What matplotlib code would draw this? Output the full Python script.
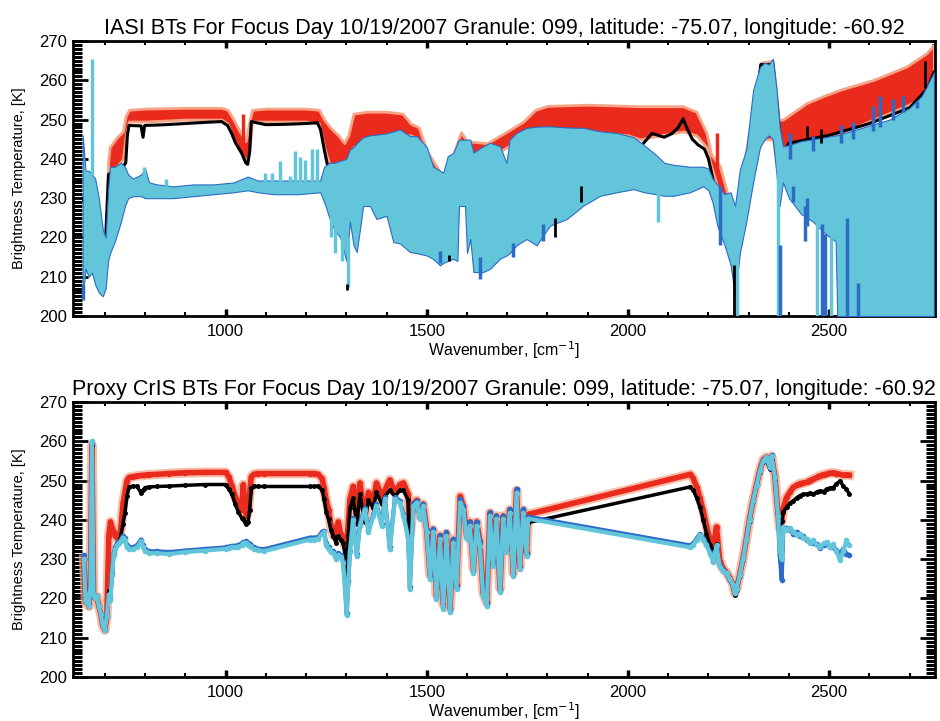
import numpy as np
from matplotlib import pyplot as plt
from matplotlib.ticker import MultipleLocator

plt.rcParams['font.family'] = ['Liberation Sans', 'DejaVu Sans']

RED = '#ea2a1d'
HALO = '#f6a386'
BLUE = '#2c6cc6'
CYAN = '#62c5da'

# ---------------- IASI (top panel) ----------------
# cyan spectrum drawn as an envelope band (dense channels)
iasi_cyan_wn = [645, 652, 660, 668, 676, 685, 695, 702, 708, 713,
                725, 740, 750, 758, 770, 790, 800, 810, 830, 870,
                920, 970, 1020, 1055, 1080, 1120, 1180, 1235, 1245, 1258,
                1270, 1285, 1300, 1309, 1318, 1326, 1342, 1359, 1375, 1400,
                1417, 1433, 1458, 1475, 1500, 1516, 1533, 1541, 1552, 1566,
                1576, 1580, 1595, 1600, 1608, 1616, 1640, 1657, 1682, 1698,
                1706, 1723, 1748, 1773, 1806, 1848, 1889, 1931, 1972, 2014,
                2040, 2070, 2090, 2113, 2154, 2187, 2200, 2210, 2222, 2240,
                2255, 2266, 2278, 2294, 2311, 2328, 2340, 2350, 2360, 2369,
                2377, 2385, 2400, 2430, 2460, 2490, 2516, 2520, 2600, 2650,
                2700, 2730, 2760]
iasi_cyan_lo = [205, 212, 210, 211, 208, 206, 205, 207, 214, 216,
                219, 224, 228, 230, 230.5, 230.5, 230, 230, 230, 230,
                230.5, 231, 231.5, 232, 231.5, 231, 231, 231.5, 229, 225,
                222, 220, 214, 224, 218, 216.3, 228, 228, 224.7, 225.5,
                218.8, 218.5, 216.3, 216, 215.4, 214.5, 212.9, 213.5, 214, 214.6,
                214, 228, 228, 216, 219.6, 211.2, 211.2, 212, 214.6, 215.4,
                216, 218, 219.6, 218, 223, 224.7, 228.1, 230.6, 231.5, 232.3,
                231.5, 231, 230.6, 230.6, 231.5, 233, 232, 229, 223, 218,
                213, 205, 216, 224, 234, 243, 245, 246, 245, 236,
                228, 234, 230, 226, 224, 221, 219, 200, 200, 200,
                200, 200, 200]
iasi_cyan_hi = [246, 237, 237, 236, 235, 230, 222, 220, 232, 238,
                238, 239, 238, 236, 235, 236, 237.5, 234, 233.5, 233,
                233.5, 233.5, 234, 235.5, 234.5, 234.5, 234.5, 234.5, 238, 239,
                239, 239.5, 240, 242.4, 243, 244, 245.5, 246, 246.2, 246.5,
                247, 247.5, 245.8, 245.8, 243, 238, 237, 236.5, 240.7, 241.5,
                244, 244.9, 244.9, 244.9, 244.9, 241.6, 243.2, 244.1, 243.2, 239,
                244.9, 246.6, 247.9, 248.2, 248.3, 248, 247.9, 247, 246.6, 245.5,
                243.5, 241, 239, 238.5, 238, 238, 237.5, 235, 233.5, 231,
                231.5, 228, 237.3, 242.4, 257.6, 263.4, 264.5, 264, 265.5, 258,
                248, 243.2, 243.5, 244.5, 245, 245.5, 246, 246, 248.5, 250,
                253, 256, 262]

iasi_red_wn = [708, 712, 730, 745, 752, 760, 800, 900, 990, 1005,
               1020, 1035, 1050, 1058, 1066, 1100, 1200, 1232, 1245, 1260,
               1280, 1295, 1305, 1318, 1350, 1400, 1440, 1460, 1480, 1500,
               1540, 1560, 1585, 1600, 1650, 1700, 1740, 1770, 1800, 1900,
               2000, 2030, 2080, 2137, 2170, 2195, 2207, 2228, 2250, 2266,
               2290, 2330, 2360, 2375, 2385, 2444, 2486, 2527, 2610, 2692,
               2742, 2760]
iasi_red_lo = [236.5, 237, 238, 240, 246, 249.5, 249.5, 250, 250, 249,
               245, 242, 239.5, 241, 249.5, 249.5, 249.5, 249, 243, 238,
               237, 236, 238, 243, 244, 245, 246, 246, 245, 238,
               232, 235, 243, 241, 240, 243, 246, 247, 247.5, 247,
               246, 245, 246, 247, 246, 243, 238, 231, 222, 214,
               226, 245, 245, 235, 242.5, 244, 245, 246.5, 250, 253.5,
               256, 258]
iasi_red_hi = [239, 243, 245.5, 247, 251, 252.5, 252.8, 253, 253, 252.5,
               250, 247, 244.5, 249, 252.5, 252.8, 252.8, 252.5, 250, 248,
               246, 244, 246, 251.5, 252, 252, 251.5, 249, 248, 242,
               235.5, 239.5, 246.8, 244.5, 244, 247, 249.5, 252.5, 253.5, 253.8,
               253.5, 253.4, 253.4, 253.4, 252, 246.6, 241, 238.2, 230, 226,
               240, 264.5, 265, 250, 250, 254.2, 256, 257.6, 260.1, 263.5,
               266.9, 269]

iasi_blk_wn = [645, 700, 709, 745, 752, 756, 760, 790, 795, 799,
               850, 900, 950, 990, 1005, 1015, 1025, 1040, 1050, 1055,
               1060, 1064, 1100, 1150, 1200, 1228, 1236, 1245, 1255, 1270,
               1290, 1310, 1400, 1480, 1516, 1541, 1566, 1600, 1640, 1698,
               1723, 1773, 1889, 1972, 2030, 2060, 2090, 2110, 2125, 2137,
               2148, 2160, 2175, 2190, 2200, 2230, 2266, 2300, 2330, 2360,
               2383, 2400, 2500, 2600, 2700, 2745, 2760]
iasi_blk_bt = [230, 215, 236, 238, 239, 246, 248.5, 248.4, 245.5, 248.5,
               248.7, 249, 249.3, 249.5, 248.5, 246.5, 244, 241.5, 239, 238.6,
               242, 249.5, 248.7, 248.8, 249, 249.2, 247.5, 242.5, 237.5, 236,
               235, 236, 244, 243, 235, 233, 238, 240, 240, 236,
               244, 246, 246, 245, 243, 246.5, 245.5, 246.5, 248, 250.2,
               247.5, 245, 243.5, 242.5, 240, 226, 210, 238, 264, 264,
               241, 244, 246, 249, 253, 258, 262]

# isolated channels sticking out of the bands: wavenumber, low, high
iasi_cyan_spk_wn = [668, 797, 852, 1098, 1115, 1135, 1160, 1173, 1185, 1197,
                    1214, 1227, 1262, 1272, 1290, 1304, 2075, 2270, 2372, 2470,
                    2505]
iasi_cyan_spk_lo = [236, 233, 233, 234, 234, 234, 234, 234, 234, 234,
                    234, 234, 220, 216, 214, 207.5, 224, 200, 200, 200,
                    200]
iasi_cyan_spk_hi = [265.5, 238, 235, 236.5, 236.5, 239.4, 235.7, 242, 240.6, 239.8,
                    242.4, 242.4, 230, 228, 225, 220, 232, 215, 240, 224,
                    220]

iasi_blue_spk_wn = [646, 1533, 1632, 1715, 1790, 2229, 2378, 2411, 2440, 2444,
                    2481, 2489, 2544, 2572, 2403, 2460, 2530, 2560, 2609, 2626,
                    2659, 2684, 2717]
iasi_blue_spk_lo = [204, 213.5, 209.5, 215, 219, 218, 200, 229, 219, 223,
                    200, 200, 200, 200, 240, 242, 244, 245, 247, 248,
                    250, 252, 253]
iasi_blue_spk_hi = [208, 216.5, 215, 218.5, 223.5, 233, 218, 233, 228, 230,
                    223.3, 221, 225, 208.5, 246.6, 245.8, 248.5, 249.3, 253.4, 256,
                    255.2, 256, 254.8]

iasi_blk_spk_wn = [1301, 1555, 1818, 1884, 2263, 2444, 2480, 2738]
iasi_blk_spk_lo = [206.5, 214, 220, 229, 200, 245, 244, 258]
iasi_blk_spk_hi = [208.2, 215.5, 225, 233, 213, 248.3, 247.5, 265]

iasi_red_spk_wn = [1044, 2220]
iasi_red_spk_lo = [243, 238]
iasi_red_spk_hi = [251.5, 246.5]

# ---------------- Proxy CrIS (bottom panel) ----------------
cris_wn_lw = [648, 652, 656, 660, 664, 668, 672, 676, 680, 685,
              690, 695, 700, 705, 710, 714, 718, 722, 726, 730,
              735, 740, 745, 750, 755, 760, 770, 780, 790, 795,
              800, 810, 830, 860, 900, 950, 1000, 1008, 1016, 1024,
              1032, 1040, 1044, 1048, 1052, 1056, 1060, 1064, 1070, 1080,
              1095]
cris_wn_mw = [1210, 1220, 1230, 1240, 1245, 1250, 1256, 1262, 1268, 1274,
              1280, 1286, 1292, 1297, 1301, 1305, 1309, 1317, 1326, 1334,
              1346, 1355, 1367, 1375, 1388, 1396, 1408, 1421, 1433, 1442,
              1454, 1458, 1467, 1475, 1483, 1491, 1500, 1508, 1516, 1524,
              1533, 1541, 1549, 1558, 1566, 1574, 1583, 1591, 1599, 1607,
              1616, 1624, 1632, 1640, 1649, 1657, 1665, 1673, 1682, 1690,
              1698, 1706, 1715, 1723, 1731, 1740, 1748, 1752]
cris_wn_sw = [2155, 2162, 2171, 2179, 2187, 2195, 2204, 2212, 2220, 2228,
              2237, 2245, 2253, 2261, 2265, 2270, 2278, 2286, 2294, 2302,
              2311, 2320, 2328, 2336, 2344, 2352, 2357, 2365, 2373, 2377,
              2382, 2386, 2394, 2402, 2411, 2419, 2427, 2436, 2444, 2452,
              2461, 2469, 2477, 2486, 2494, 2502, 2510, 2518, 2527, 2535,
              2543, 2550]

cris_cyan_lw = [230, 219, 221, 218, 222, 260, 221, 220, 220.5, 218,
                216, 213, 212, 215.5, 221, 219.5, 226, 231, 232.5, 233.5,
                234, 234.5, 235.5, 235, 233, 232.5, 232.5, 233, 234.5, 233,
                232, 231.5, 231.5, 231.3, 231.8, 232.2, 232.6, 232.8, 233, 233,
                233.2, 233.5, 234, 233.8, 234.2, 233.6, 233.4, 233, 232.6, 232.3,
                232]
cris_blue_lw = [231, 219.5, 221.5, 218.5, 222, 259.5, 221, 220, 220.5, 218,
                216, 213, 212.3, 215.5, 221, 220, 226.5, 231.5, 233, 234,
                234.5, 235, 236, 235.5, 233.5, 233, 233, 233.5, 235, 233.5,
                232.5, 232, 232, 231.8, 232.2, 232.6, 233, 233.2, 233.4, 233.4,
                233.6, 234, 234.4, 234.2, 234.6, 234, 233.8, 233.4, 233, 232.7,
                232.5]
cris_red_lw = [230, 219, 221, 218, 222, 259, 221, 220, 220.5, 218,
               216, 213, 212, 215.5, 236, 239.5, 238, 237, 236, 235.5,
               235.2, 238, 244, 247, 250, 250.8, 251, 251.2, 251.3, 251.3,
               251.4, 251.5, 251.6, 251.8, 252, 252.1, 252.1, 251, 248.5, 246,
               244, 242.6, 249, 243, 241, 242, 247, 251, 251.6, 251.8,
               251.8]
cris_blk_lw = [230, 219, 221, 218, 222, 259, 221, 220, 220.5, 218,
               216, 213, 212, 215.5, 222, 220, 226, 231, 233, 234,
               234.5, 236, 239, 241.8, 246, 248.4, 248.6, 248.5, 246.9, 247.5,
               248.2, 248.4, 248.5, 248.6, 248.8, 249, 249, 247.8, 246.5, 244,
               242, 240.5, 240.2, 239.5, 238.9, 239.5, 242.6, 248, 248.6, 248.5,
               248.5]

cris_cyan_mw = [235, 235, 235.2, 236.5, 236.8, 233.5, 232.5, 231.7, 231.5, 230,
                231, 230.5, 229, 222.4, 215.7, 224, 231.7, 240, 230.8, 238.5,
                242.6, 236.8, 240.9, 243.5, 238.5, 245.2, 232.5, 245.2, 244.4, 241,
                235.1, 222.4, 243.5, 244.4, 240.1, 243.5, 236.8, 224.9, 236.8, 219.9,
                235.1, 217.4, 235.9, 216.5, 234.2, 222.4, 244.4, 242.6, 235.1, 238.5,
                226.6, 238.5, 233.4, 220.7, 218.2, 240.9, 228.3, 240.1, 221.6, 240.1,
                231.7, 241.8, 225.7, 246.9, 227.4, 241.8, 230.8, 240.3]
cris_blue_mw = [235.5, 235.5, 235.6, 237, 237.2, 234, 233, 232.2, 232, 230.5,
                231.5, 231, 229.5, 223, 216.2, 224.5, 232.2, 240.5, 231.3, 239,
                243.1, 237.3, 241.4, 244, 239, 245.7, 233, 245.7, 244.9, 241.5,
                235.6, 223, 244, 244.9, 240.6, 244, 237.3, 225.4, 237.8, 220.4,
                236.1, 217.9, 236.9, 217, 235.2, 222.9, 245.2, 243.6, 236.1, 239.5,
                227.1, 239.5, 234.4, 221.2, 218.7, 241.9, 228.8, 241.1, 222.1, 241.1,
                232.2, 242.8, 226.2, 247.9, 227.9, 242.8, 231.3, 240.8]
cris_red_mw = [251.8, 251.8, 251.6, 250.5, 248, 245, 242.6, 238.5, 236, 237.5,
               239.5, 236.5, 235, 233.4, 234, 239, 245.2, 248.5, 241, 249.4,
               240.5, 247, 245, 249.4, 246, 247.5, 250.2, 247, 249, 249.4,
               246.5, 236, 244, 245, 241, 244, 237.5, 226, 237.5, 221,
               236, 218.5, 236.5, 217.5, 235, 223.5, 246, 243.5, 236, 239.5,
               227.5, 239.5, 234.5, 221.5, 219, 241.8, 229, 241, 222.5, 241,
               232.5, 242.6, 226.5, 247.5, 228, 242.5, 231.5, 241.4]
cris_blk_mw = [248.5, 248.5, 248.6, 247.5, 245.2, 242, 240.1, 237.5, 235.9, 234.2,
               236, 235, 234.2, 231, 226, 236, 243, 245.5, 239, 246.5,
               239.5, 245, 243, 247, 244, 246, 247.5, 246, 247.5, 247.5,
               245, 230, 243.8, 244.8, 240.5, 243.8, 237.2, 225.5, 237.2, 220.5,
               235.5, 218, 236.2, 217, 234.6, 223, 245, 243, 235.5, 239,
               227, 239, 234, 221, 218.6, 241.3, 228.6, 240.6, 222, 240.6,
               232, 242.2, 226, 247.2, 227.8, 242.2, 231.2, 239.3]

cris_cyan_sw = [233, 233.6, 235, 236.1, 235, 233.5, 231.4, 229.3, 233.5, 228.1,
                227, 226.4, 225, 223.5, 221.3, 222.5, 226, 230, 234.8, 240,
                244.9, 249, 252.5, 255, 255.9, 253.5, 256.2, 250.8, 241, 232.3,
                230, 238.2, 237.5, 238, 237, 236.2, 236.5, 235.5, 235.2, 234,
                234.8, 233.5, 233.1, 234, 234.3, 233, 233.8, 232, 229.7, 232,
                234.8, 233.5]
cris_blue_sw = [233.5, 234, 235.3, 236.4, 235.3, 233.8, 231.7, 229.6, 233, 228.4,
                227.3, 226.2, 224.6, 223.2, 221.5, 222.7, 226.2, 230.3, 235, 240.2,
                245.1, 249.2, 252.7, 255.2, 256, 253.2, 256.4, 251, 240, 231,
                224.7, 237.5, 238, 237.5, 236.5, 236.8, 236, 235.8, 234.8, 234.4,
                234.2, 233.8, 232.8, 233.5, 233.9, 233.2, 233, 232.3, 231.6, 232.5,
                231.4, 231]
cris_red_sw = [251.6, 250.6, 248.3, 245.5, 242.3, 238.5, 234.8, 233.1, 238.2, 229.5,
               227.5, 226.6, 225.2, 223.6, 221.4, 222.6, 226.2, 230.2, 235, 240.2,
               245, 249.2, 252.8, 255.3, 256, 254, 256.2, 251, 241.5, 238,
               239.8, 243, 245.7, 247, 248.3, 248.8, 249.2, 249.4, 249.6, 250,
               250.4, 250.8, 251.2, 251.5, 251.7, 251.9, 252, 251.8, 251.6, 251.4,
               251.5, 251.4]
cris_blk_sw = [248.4, 247.6, 245.5, 243.2, 240, 236.5, 233.5, 231.8, 233.8, 228.6,
               227.2, 226.2, 224.8, 223, 220.9, 222.2, 225.8, 229.8, 234.6, 239.8,
               244.6, 248.8, 252.3, 254.8, 255, 253, 255.3, 250.3, 240.5, 236,
               239.8, 242, 243.2, 244.2, 244.9, 245.6, 246.2, 246.5, 246.6, 246.8,
               246.6, 247.1, 247.4, 247.2, 247.9, 248.1, 248.2, 249.2, 249.9, 248.6,
               247.8, 246.6]

TITLE_TAIL = " BTs For Focus Day 10/19/2007 Granule: 099, latitude: -75.07, longitude: -60.92"


def style_axis(ax, small_right):
    '''
    IDL-like frame: inward ticks all round, dense minor ticks on the BT axis
    '''
    ax.set_xlim(621, 2763)
    ax.set_ylim(200, 270)
    ax.xaxis.set_major_locator(MultipleLocator(500))
    ax.xaxis.set_minor_locator(MultipleLocator(100))
    ax.yaxis.set_major_locator(MultipleLocator(10))
    ax.yaxis.set_minor_locator(MultipleLocator(1))
    ax.tick_params(axis='x', which='both', direction='in', top=True,
                   labelsize=12, pad=6)
    ax.tick_params(axis='x', which='major', length=5, width=2.5)
    ax.tick_params(axis='x', which='minor', length=3, width=1.5)
    ax.tick_params(axis='y', which='both', direction='in', right=True,
                   labelsize=12, pad=4)
    ax.tick_params(axis='y', which='major', length=11, width=2)
    ax.tick_params(axis='y', which='minor', length=6.5, width=2.2)
    for sp in ax.spines.values():
        sp.set_linewidth(2)
    if small_right:
        for t in ax.yaxis.get_major_ticks() + ax.yaxis.get_minor_ticks():
            t.tick2line.set_markersize(2)
    ax.set_ylabel("Brightness Temperature, [K]", fontsize=10.5)
    ax.yaxis.set_label_coords(-0.054, 0.5)
    ax.set_xlabel("Wavenumber, [cm$^{-1}$]", fontsize=11.5)
    ax.xaxis.set_label_coords(0.5, -0.085)


fig = plt.figure(figsize=(9.4, 7.21), dpi=100)
ax1 = fig.add_axes([0.0777, 0.5617, 0.917, 0.3814])
ax2 = fig.add_axes([0.0777, 0.0610, 0.917, 0.3814])

# top: IASI
ax1.fill_between(iasi_red_wn, iasi_red_lo, iasi_red_hi, facecolor=RED,
                 edgecolor=HALO, linewidth=2, zorder=2)
ax1.vlines(iasi_red_spk_wn, iasi_red_spk_lo, iasi_red_spk_hi, color=RED, lw=2.5, zorder=2)
ax1.plot(iasi_blk_wn, iasi_blk_bt, color='black', lw=2.2, zorder=3)
ax1.fill_between(iasi_cyan_wn, iasi_cyan_lo, iasi_cyan_hi, facecolor=CYAN,
                 edgecolor=BLUE, linewidth=0.8, zorder=5)
ax1.vlines(iasi_cyan_spk_wn, iasi_cyan_spk_lo, iasi_cyan_spk_hi, color=CYAN, lw=2.5, zorder=5)
ax1.vlines(iasi_blue_spk_wn, iasi_blue_spk_lo, iasi_blue_spk_hi, color=BLUE, lw=2.5, zorder=6)
ax1.vlines(iasi_blk_spk_wn, iasi_blk_spk_lo, iasi_blk_spk_hi, color='black', lw=2, zorder=6)
style_axis(ax1, True)
ax1.set_title("IASI" + TITLE_TAIL, fontsize=15.5, pad=5)

# bottom: proxy CrIS, the three bands joined in one trace as in the original
cris_wn = cris_wn_lw + cris_wn_mw + cris_wn_sw
cris_red = cris_red_lw + cris_red_mw + cris_red_sw
cris_blk = cris_blk_lw + cris_blk_mw + cris_blk_sw
cris_blue = cris_blue_lw + cris_blue_mw + cris_blue_sw
cris_cyan = cris_cyan_lw + cris_cyan_mw + cris_cyan_sw

ax2.plot(cris_wn, cris_red, color=HALO, lw=7, alpha=0.7, zorder=2)
ax2.plot(cris_wn, cris_red, color=RED, lw=4, marker='o', ms=3, zorder=2)
ax2.plot(cris_wn, cris_blk, color='black', lw=2.5, marker='o', ms=2.5, zorder=3)
ax2.plot(cris_wn, cris_blue, color=BLUE, lw=3, marker='o', ms=3, zorder=4)
ax2.plot(cris_wn, cris_cyan, color=CYAN, lw=3, marker='o', ms=3, zorder=5)
style_axis(ax2, False)
ax2.set_title("Proxy CrIS" + TITLE_TAIL, fontsize=15.5, pad=5)

plt.savefig("out.png", dpi=100)
